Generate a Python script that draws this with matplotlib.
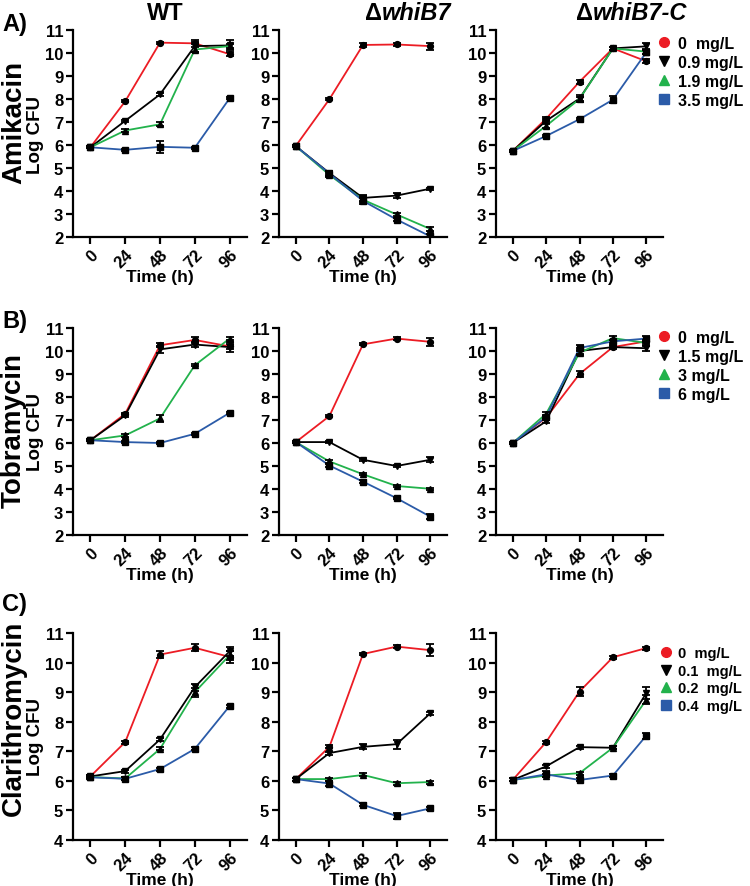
import numpy as np
import matplotlib
matplotlib.use('Agg')
import matplotlib.pyplot as plt
from matplotlib.lines import Line2D

plt.rcParams['font.family'] = 'Liberation Sans'
plt.rcParams['font.weight'] = 'bold'

times = [0, 24, 48, 72, 96]
strains = ['WT', 'whiB7', 'whiB7-C']
drugs = ['Amikacin', 'Tobramycin', 'Clarithromycin']
letters = ['A)', 'B)', 'C)']
doses = [['0  mg/L', '0.9 mg/L', '1.9 mg/L', '3.5 mg/L'],
         ['0  mg/L', '1.5 mg/L', '3 mg/L', '6 mg/L'],
         ['0  mg/L', '0.1  mg/L', '0.2  mg/L', '0.4  mg/L']]
ylims = [(2, 11), (2, 11), (4, 11)]

# amikacin: [strain][dose] -> log CFU
ami = [
    [[5.9, 7.9, 10.45, 10.42, 9.95],
     [5.9, 7.05, 8.2, 10.3, 10.33],
     [5.9, 6.63, 6.9, 10.15, 10.3],
     [5.9, 5.79, 5.92, 5.88, 8.03]],
    [[5.96, 7.99, 10.35, 10.37, 10.3],
     [5.95, 4.78, 3.7, 3.8, 4.1],
     [5.95, 4.7, 3.62, 2.98, 2.35],
     [5.95, 4.76, 3.57, 2.76, 2.03]],
    [[5.74, 7.14, 8.75, 10.2, 9.64],
     [5.74, 7.05, 8.02, 10.2, 10.29],
     [5.74, 6.83, 8.0, 10.2, 10.06],
     [5.74, 6.39, 7.12, 7.97, 10.03]],
]
ami_err = [
    [[0.05, 0.05, 0.05, 0.05, 0.08],
     [0.05, 0.05, 0.08, 0.25, 0.22],
     [0.05, 0.05, 0.08, 0.1, 0.1],
     [0.05, 0.05, 0.25, 0.05, 0.05]],
    [[0.05, 0.05, 0.1, 0.08, 0.15],
     [0.05, 0.08, 0.12, 0.1, 0.05],
     [0.05, 0.08, 0.1, 0.05, 0.1],
     [0.05, 0.1, 0.12, 0.08, 0.1]],
    [[0.05, 0.08, 0.08, 0.05, 0.08],
     [0.05, 0.08, 0.15, 0.05, 0.15],
     [0.05, 0.08, 0.1, 0.05, 0.1],
     [0.05, 0.05, 0.05, 0.15, 0.08]],
]

tob = [
    [[6.12, 7.27, 10.25, 10.48, 10.2],
     [6.12, 7.2, 10.07, 10.28, 10.17],
     [6.12, 6.33, 7.07, 9.38, 10.54],
     [6.12, 6.04, 6.0, 6.4, 7.31]],
    [[6.04, 7.17, 10.29, 10.54, 10.4],
     [6.04, 6.04, 5.27, 5.0, 5.27],
     [6.04, 5.2, 4.64, 4.13, 4.01],
     [6.04, 5.02, 4.32, 3.6, 2.8]],
    [[6.0, 7.1, 9.0, 10.17, 10.42],
     [6.0, 6.94, 10.0, 10.17, 10.12],
     [6.0, 7.27, 9.93, 10.56, 10.35],
     [6.0, 7.13, 10.13, 10.42, 10.54]],
]
tob_err = [
    [[0.05, 0.05, 0.08, 0.12, 0.1],
     [0.05, 0.05, 0.15, 0.1, 0.2],
     [0.05, 0.05, 0.15, 0.05, 0.05],
     [0.05, 0.05, 0.05, 0.05, 0.05]],
    [[0.05, 0.05, 0.05, 0.05, 0.18],
     [0.05, 0.05, 0.05, 0.05, 0.1],
     [0.05, 0.05, 0.05, 0.05, 0.05],
     [0.05, 0.05, 0.05, 0.05, 0.1]],
    [[0.05, 0.05, 0.15, 0.05, 0.08],
     [0.05, 0.08, 0.12, 0.08, 0.1],
     [0.05, 0.08, 0.12, 0.08, 0.08],
     [0.05, 0.08, 0.12, 0.08, 0.1]],
]

cla = [
    [[6.15, 7.31, 10.27, 10.5, 10.19],
     [6.15, 6.33, 7.4, 9.17, 10.38],
     [6.13, 6.08, 7.08, 9.0, 10.25],
     [6.12, 6.07, 6.4, 7.08, 8.53]],
    [[6.06, 7.15, 10.29, 10.54, 10.42],
     [6.06, 6.94, 7.15, 7.24, 8.28],
     [6.06, 6.06, 6.2, 5.92, 5.96],
     [6.06, 5.91, 5.19, 4.81, 5.07]],
    [[6.03, 7.31, 9.02, 10.18, 10.49],
     [6.03, 6.49, 7.14, 7.12, 8.97],
     [6.03, 6.18, 6.26, 7.12, 8.74],
     [6.03, 6.22, 6.03, 6.18, 7.53]],
]
cla_err = [
    [[0.05, 0.05, 0.12, 0.12, 0.2],
     [0.05, 0.05, 0.05, 0.12, 0.15],
     [0.05, 0.05, 0.05, 0.15, 0.15],
     [0.05, 0.05, 0.05, 0.05, 0.05]],
    [[0.05, 0.05, 0.05, 0.05, 0.2],
     [0.05, 0.05, 0.08, 0.15, 0.05],
     [0.05, 0.05, 0.05, 0.05, 0.05],
     [0.05, 0.1, 0.05, 0.1, 0.05]],
    [[0.05, 0.05, 0.15, 0.05, 0.05],
     [0.05, 0.05, 0.05, 0.05, 0.2],
     [0.05, 0.05, 0.05, 0.05, 0.15],
     [0.05, 0.1, 0.05, 0.05, 0.1]],
]

all_data = [ami, tob, cla]
all_err = [ami_err, tob_err, cla_err]

colors = ['#ec1c24', '#000000', '#22b24c', '#2b5ba8']
markers = ['o', 'v', '^', 's']
msizes = [4.2, 5, 5, 4.5]

fig = plt.figure(figsize=(7.5, 8.87), dpi=100)
W, H = 750, 887

col_px = [(73, 247), (279, 447), (496, 663)]
row_px = [(31, 238), (329, 536), (634, 841)]
leg_x = [658, 658, 660]
leg_dy = [6, 2, 13]
leg_fs = [11.5, 11.5, 10.5]

for r in range(3):
    for c in range(3):
        x0, x1 = col_px[c]
        y0, y1 = row_px[r]
        ax = fig.add_axes([x0 / W, 1 - y1 / H, (x1 - x0) / W, (y1 - y0) / H])
        for k in range(4):
            y = all_data[r][c][k]
            e = all_err[r][c][k]
            ax.plot(times, y, color=colors[k], lw=1.3, zorder=2)
            ax.errorbar(times, y, yerr=e, fmt=markers[k], color='black',
                        ms=msizes[k], capsize=3, elinewidth=1.3, capthick=1.3,
                        zorder=3)
        ax.set_xlim(-12, 108)
        ax.set_ylim(*ylims[r])
        ax.set_yticks(np.arange(ylims[r][0], 12))
        ax.set_xticks(times)
        ax.set_xticklabels([str(t) for t in times], rotation=45,
                           ha='right', va='top', rotation_mode='anchor')
        ax.spines['top'].set_visible(False)
        ax.spines['right'].set_visible(False)
        for s in ['left', 'bottom']:
            ax.spines[s].set_linewidth(1.6)
        ax.tick_params(width=1.6, length=5, labelsize=12, pad=2)
        for lab in ax.get_xticklabels() + ax.get_yticklabels():
            lab.set_fontweight('bold')
        ax.set_xlabel('Time (h)', fontsize=12.5, fontweight='bold', labelpad=-1)
        if c == 0:
            ax.set_ylabel('Log CFU', fontsize=13.5, fontweight='bold', labelpad=1)
        if c == 2:
            handles = [Line2D([], [], ls='', marker=markers[k], color=colors[k],
                              ms=7) for k in range(4)]
            ax.legend(handles, doses[r], loc='upper left',
                      bbox_to_anchor=(leg_x[r] / W, 1 - (y0 + leg_dy[r]) / H),
                      bbox_transform=fig.transFigure, frameon=False,
                      handlelength=0.8, handletextpad=0.45, labelspacing=0.25,
                      borderaxespad=0, borderpad=0,
                      prop={'size': leg_fs[r], 'weight': 'bold'})

# column titles
fig.text(165 / W, 1 - 13 / H, 'WT', fontsize=17, fontweight='bold',
         ha='center', va='center')
for cx, name in [(382 / W, strains[1]), (593 / W, strains[2])]:
    fig.text(cx, 1 - 13 / H, '\u0394', fontsize=17, fontweight='bold',
             ha='right', va='center')
    fig.text(cx, 1 - 13 / H, name, fontsize=17, fontweight='bold',
             style='italic', ha='left', va='center')

# row labels
row_lab_y = [122, 430, 718]
let_y = [24, 322, 604]
for r in range(3):
    fig.text(14 / W, 1 - row_lab_y[r] / H, drugs[r], fontsize=20,
             fontweight='bold', rotation=90, ha='center', va='center')
    fig.text(2 / W, 1 - let_y[r] / H, letters[r], fontsize=17,
             fontweight='bold', ha='left', va='center')

fig.savefig('out.png', dpi=100)
